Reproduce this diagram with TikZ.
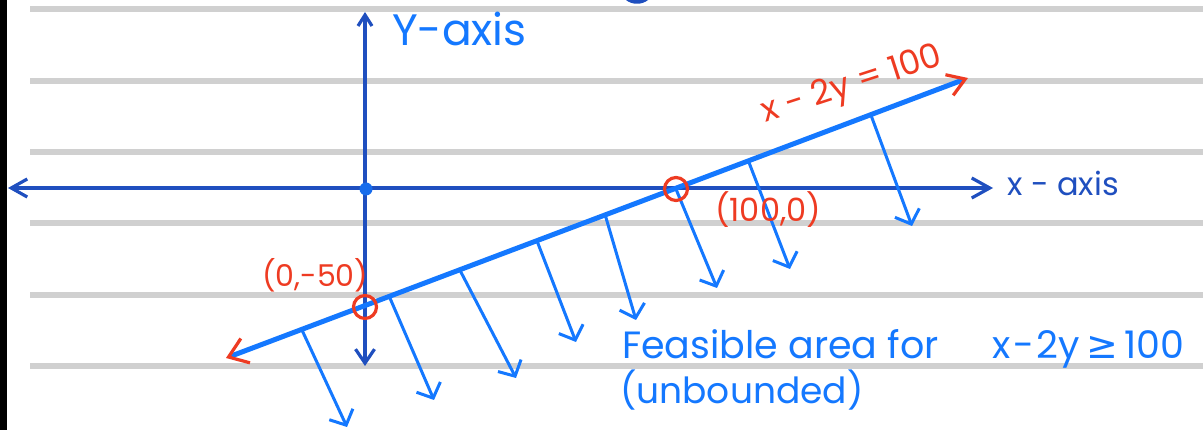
\documentclass[tikz,border=0pt]{standalone}
\usepackage{fontspec}
\setmainfont{Poppins}
\newfontfamily\symf{DejaVu Sans}
\usetikzlibrary{arrows.meta,calc}
\definecolor{rulegray}{HTML}{D0D0D0}
\definecolor{axisblue}{HTML}{1F4FBF}
\definecolor{brightblue}{HTML}{1478FF}
\definecolor{redc}{HTML}{EE3B22}
\tikzset{
  rule/.style={rulegray, line width=6pt},
  axis/.style={axisblue, line width=3.2pt, line cap=round},
  hatch/.style={brightblue, line width=3pt, line cap=round, line join=round,
    -{Straight Barb[length=12pt,width=26pt]}},
  lbl/.style={inner sep=0pt, anchor=base west},
  ptcircle/.style={circle, draw=redc, line width=3.2pt, minimum size=23pt, inner sep=0pt},
}
\begin{document}
\begin{tikzpicture}[x=1pt,y=-1pt]
\useasboundingbox (0,0) rectangle (1203,430);
\fill[white] (0,0) rectangle (1203,430);
\fill[black] (0,0) rectangle (7,430);
\foreach \yy in {9,81,152,223,295,366} \draw[rule] (30,\yy) -- (1203,\yy);
% partial stroke at top
\fill[axisblue] (626,0) .. controls (632,5) and (642,5) .. (648,0) -- cycle;
% axes
\coordinate (xl) at (8,188);
\coordinate (xr) at (993,188);
\coordinate (yt) at (365,12);
\coordinate (yb) at (365,366);
\draw[axis, {Straight Barb[length=16pt,width=18pt]}-{Straight Barb[length=18pt,width=20pt]}] (xl) -- (xr);
\draw[axis, {Straight Barb[length=11pt,width=14pt]}-{Straight Barb[length=14pt,width=19pt]}] (yt) -- (yb);
\fill[brightblue!70!axisblue] (366,189) circle (6.5);
% constraint line
\coordinate (A) at (226,358);
\coordinate (B) at (968,78);
\draw[brightblue, line width=5pt,
  {Straight Barb[color=redc,length=18pt,width=26pt,line width=3.2pt]}-{Straight Barb[color=redc,length=17pt,width=22pt,line width=3.2pt]}] (A) -- (B);
% hatch arrows
\foreach \t/\ex/\ey [count=\i] in {0.102/347/427, 0.220/434/400, 0.315/516/378, 0.419/576/342, 0.511/636/320, 0.606/717/288, 0.704/790/269, 0.869/912/226} {
  \coordinate (s\i) at ($(A)!\t!(B)$);
  \coordinate (e\i) at (\ex,\ey);
  \draw[hatch] (s\i) -- (e\i);
}
% points
\node[ptcircle] (p1) at (365,307) {};
\node[ptcircle] (p2) at (676,189) {};
% labels
\node[lbl, brightblue, font=\fontsize{44}{44}\selectfont] (ylab) at (392,46) {Y-axis};
\node[lbl, axisblue, font=\fontsize{32}{32}\selectfont] (xlab) at (1007,196) {x - axis};
\node[lbl, redc, font=\fontsize{34}{34}\selectfont, rotate=18] (eqlab) at (765,123) {x - 2y = 100};
\node[lbl, redc, font=\fontsize{30}{30}\selectfont] (l1) at (262,287) {(0,-50)};
\node[lbl, redc, font=\fontsize{32}{32}\selectfont] (l2) at (715,222) {(100,0)};
\node[lbl, brightblue, font=\fontsize{38}{38}\selectfont] (f1) at (622,359) {Feasible area for};
\node[lbl, brightblue, font=\fontsize{38}{38}\selectfont] (f3) at (992,359) {x\hspace{3pt}-\hspace{2pt}2y\hspace{7pt}{\symf ≥}\hspace{6pt}100};
\node[lbl, brightblue, font=\fontsize{36}{36}\selectfont] (f2) at (620,403) {(unbounded)};
\end{tikzpicture}
\end{document}
